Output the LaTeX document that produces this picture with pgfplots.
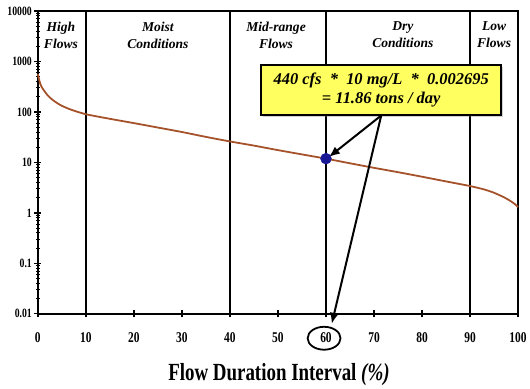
\documentclass[border=0pt]{standalone}
\usepackage{fontspec}
\setmainfont{Liberation Serif}
\usepackage{pgfplots}
\pgfplotsset{compat=1.18}
\usetikzlibrary{calc,arrows.meta,shadows}
\definecolor{curve}{RGB}{165,82,42}
\definecolor{note}{RGB}{255,255,95}
\definecolor{dot}{RGB}{25,25,150}
% tall, narrow digits for the tick labels
\newcommand{\tall}[1]{\scalebox{1}[1.3]{#1}}

\begin{document}
\begin{tikzpicture}
\begin{axis}[
  name=ax, scale only axis, width=482pt, height=304pt,
  ymode=log, xmin=0, xmax=100, ymin=0.01, ymax=10000,
  xtick={0,10,...,100},
  xticklabels={\tall{0},\tall{10},\tall{20},\tall{30},\tall{40},\tall{50},
               \tall{60},\tall{70},\tall{80},\tall{90},\tall{100}},
  ytick={0.01,0.1,1,10,100,1000,10000},
  yticklabels={\tall{0.01},\tall{0.1},\tall{1},\tall{10},\tall{100},\tall{1000},\tall{10000}},
  xtick pos=left, ytick pos=left,
  tick align=center,
  major tick length=7pt, minor tick length=4pt,
  tick style={black, line width=1.3pt},
  minor tick style={line width=1pt},
  axis line style={line width=1.6pt},
  xticklabel style={font=\bfseries\fontsize{11.5}{12}\selectfont, yshift=-12pt},
  yticklabel style={font=\bfseries\fontsize{9.8}{10}\selectfont, xshift=1pt},
  clip=false,
]
% flow duration zone boundaries
\foreach \z in {10,40,60,90} {
  \edef\tmp{\noexpand\draw[line width=1.4pt] (axis cs:\z,0.01) -- (axis cs:\z,10000);}
  \tmp
}
% zone names
\tikzset{zone/.style={anchor=north, align=center, inner sep=0pt,
  font=\bfseries\itshape\fontsize{13.6}{17}\selectfont}}
\node[zone] at ([yshift=-11pt]axis cs:4.8,10000) {High\\Flows};
\node[zone] at ([yshift=-11pt]axis cs:25,10000) {Moist\\Conditions};
\node[zone] at ([yshift=-11pt]axis cs:49.6,10000) {Mid-range\\Flows};
\node[zone] at ([yshift=-11pt]axis cs:76,10000) {Dry\\Conditions};
\node[zone] at ([yshift=-11pt]axis cs:95,10000) {Low\\Flows};

% load duration curve
\addplot[curve, line width=1.8pt, smooth, tension=0.4] coordinates {
  (0,560) (0.5,360) (1,290) (2,215) (3,175) (4,150) (5,132) (7,110)
  (10,90) (15,73) (20,60) (25,49) (30,40) (35,32) (40,26)
  (45,21.5) (50,17.5) (55,14.4) (60,11.86) (65,9.6) (70,7.8)
  (75,6.4) (80,5.2) (85,4.2) (90,3.4) (93,2.9) (95,2.5)
  (97,2.05) (98.5,1.7) (99.5,1.45) (100,1.3)
};
% sample point
\addplot[only marks, mark=*, mark size=5.5pt, color=dot] coordinates {(60,11.86)};

% calculation note
\node[fill=note, draw=black, line width=1.6pt, minimum width=241pt,
  minimum height=50pt, align=center, inner sep=2pt,
  drop shadow={opacity=0.35, shadow xshift=2pt, shadow yshift=-2pt},
  font=\bfseries\itshape\fontsize{16.5}{19.5}\selectfont]
  at (axis cs:71.5,274)
  {440 cfs~~*~~10 mg/L~~*~~0.002695\\= 11.86 tons / day};

\draw[-{Latex[length=11pt,width=9pt]}, line width=2pt]
  (axis cs:71.5,85) -- (axis cs:60.6,12.8);
\draw[-{Latex[length=11pt,width=9pt]}, line width=2pt]
  (axis cs:71.5,85) -- ([yshift=-10pt]axis cs:61.2,0.01);
\draw[line width=1.8pt] ([yshift=-24.5pt]axis cs:59.6,0.01)
  ellipse [x radius=16.5pt, y radius=11.5pt];

% axis title
\node[anchor=base, inner sep=0pt, font=\bfseries\fontsize{19}{22}\selectfont]
  at ([yshift=-67pt]axis cs:50.2,0.01)
  {\scalebox{1}[1.3]{Flow Duration Interval \textit{(\%)}}};
\end{axis}
\path[use as bounding box] ($(ax.south west)+(-38pt,-75pt)$) rectangle ($(ax.north east)+(10pt,11pt)$);
\end{tikzpicture}
\end{document}
